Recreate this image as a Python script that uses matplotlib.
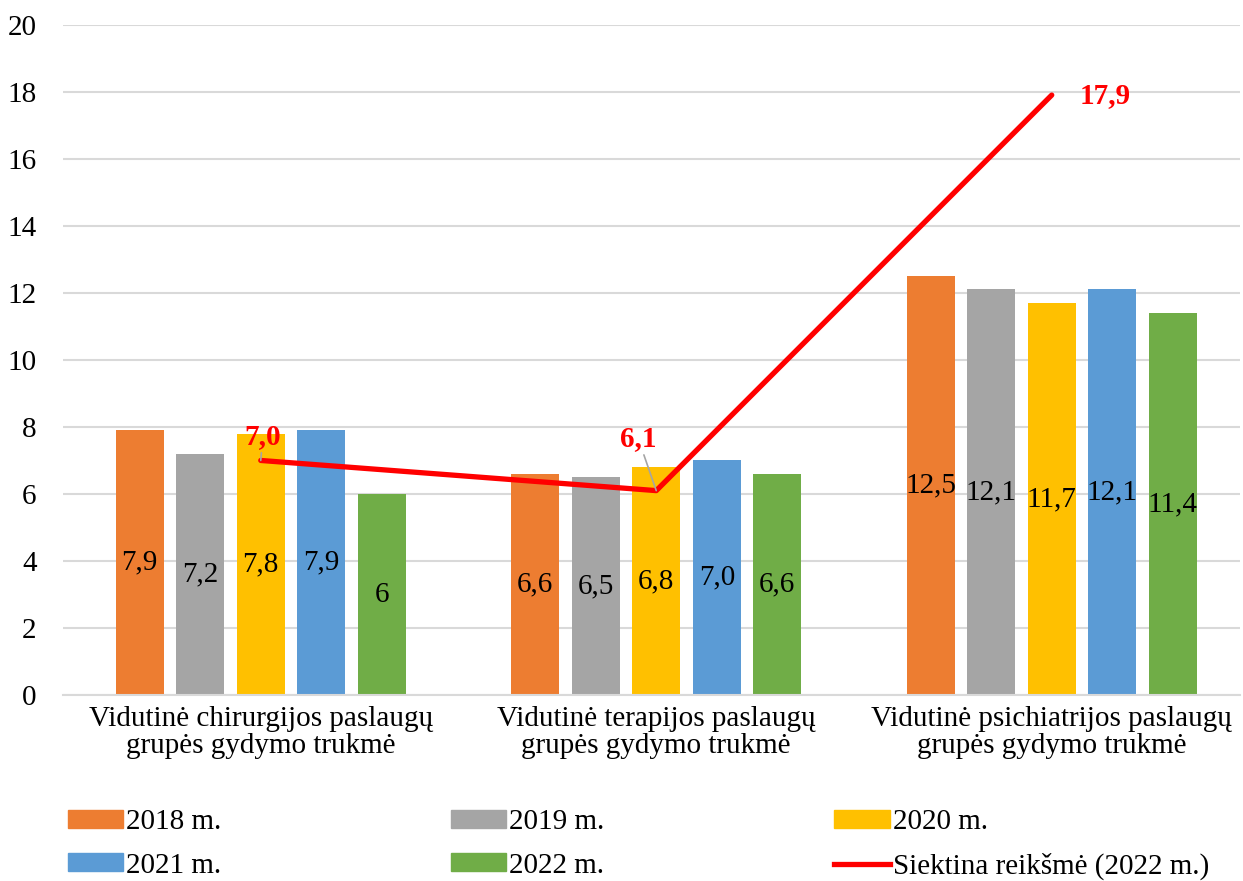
import numpy as np
import matplotlib.pyplot as plt
from matplotlib.patches import Patch
from matplotlib.lines import Line2D

plt.rcParams['font.family'] = ['Liberation Serif', 'DejaVu Serif']

categories = ['Vidutinė chirurgijos paslaugų\ngrupės gydymo trukmė',
              'Vidutinė terapijos paslaugų\ngrupės gydymo trukmė',
              'Vidutinė psichiatrijos paslaugų\ngrupės gydymo trukmė']
years = ['2018 m.', '2019 m.', '2020 m.', '2021 m.', '2022 m.']
values = [
    [7.9, 6.6, 12.5],   # 2018
    [7.2, 6.5, 12.1],   # 2019
    [7.8, 6.8, 11.7],   # 2020
    [7.9, 7.0, 12.1],   # 2021
    [6.0, 6.6, 11.4],   # 2022
]
value_labels = [
    ['7,9', '6,6', '12,5'],
    ['7,2', '6,5', '12,1'],
    ['7,8', '6,8', '11,7'],
    ['7,9', '7,0', '12,1'],
    ['6', '6,6', '11,4'],
]
target = [7.0, 6.1, 17.9]
target_labels = ['7,0', '6,1', '17,9']
target_name = 'Siektina reikšmė (2022 m.)'
colors = ['#ED7D31', '#A5A5A5', '#FFC000', '#5B9BD5', '#70AD47']

fig = plt.figure(figsize=(12.43, 8.81), dpi=100)
ax = fig.add_axes([63 / 1243, 0.211, 1177 / 1243, 0.761])

x = np.arange(len(categories))
step = 0.153
width = 0.121
for i, (yr, vals) in enumerate(zip(years, values)):
    pos = x + (i - 2) * step
    ax.bar(pos, vals, width, color=colors[i], zorder=2)
    for px, v, lab in zip(pos, vals, value_labels[i]):
        ax.text(px, v / 2, lab, ha='center', va='center', fontsize=21,
                color='black', zorder=3)

ax.plot(x, target, color='red', lw=3.8, zorder=4, solid_capstyle='round')
offsets = [(2, 24), (-18, 52), (53, 0)]
leaders = [True, True, False]
for px, v, lab, off, has_leader in zip(x, target, target_labels, offsets, leaders):
    leader = dict(arrowstyle='-', color='#A5A5A5', lw=1.2,
                  shrinkA=0, shrinkB=0) if has_leader else None
    ax.annotate(lab, (px, v), xytext=off, textcoords='offset pixels',
                ha='center', va='center', fontsize=21, fontweight='bold',
                color='red', arrowprops=leader, zorder=5)

ax.set_ylim(0, 20)
ax.set_yticks(np.arange(0, 21, 2))
ax.set_xlim(-0.5, 2.476)
ax.set_xticks(x)
ax.set_xticklabels(categories, fontsize=21, linespacing=1.05)
ax.tick_params(axis='y', length=0, labelsize=21, pad=19)
ax.tick_params(axis='x', length=0, pad=8)
ax.grid(axis='y', color='#D9D9D9', lw=1.5, zorder=0)
for s in ['top', 'right', 'left']:
    ax.spines[s].set_visible(False)
ax.spines['bottom'].set_color('#D9D9D9')
ax.spines['bottom'].set_linewidth(1.5)

handles = [Patch(color=c) for c in colors]
handles.append(Line2D([], [], color='red', lw=3.8))
labels = years + [target_name]
order = [0, 3, 1, 4, 2, 5]
fig.legend([handles[i] for i in order], [labels[i] for i in order],
           ncol=3, loc='lower left', bbox_to_anchor=(0.045, -0.012, 0.937, 0.12),
           mode='expand', frameon=False, fontsize=21, handlelength=1.9,
           handleheight=0.55, handletextpad=0.1, labelspacing=0.6,
           borderaxespad=0.0)

fig.savefig('out.png', dpi=100)
